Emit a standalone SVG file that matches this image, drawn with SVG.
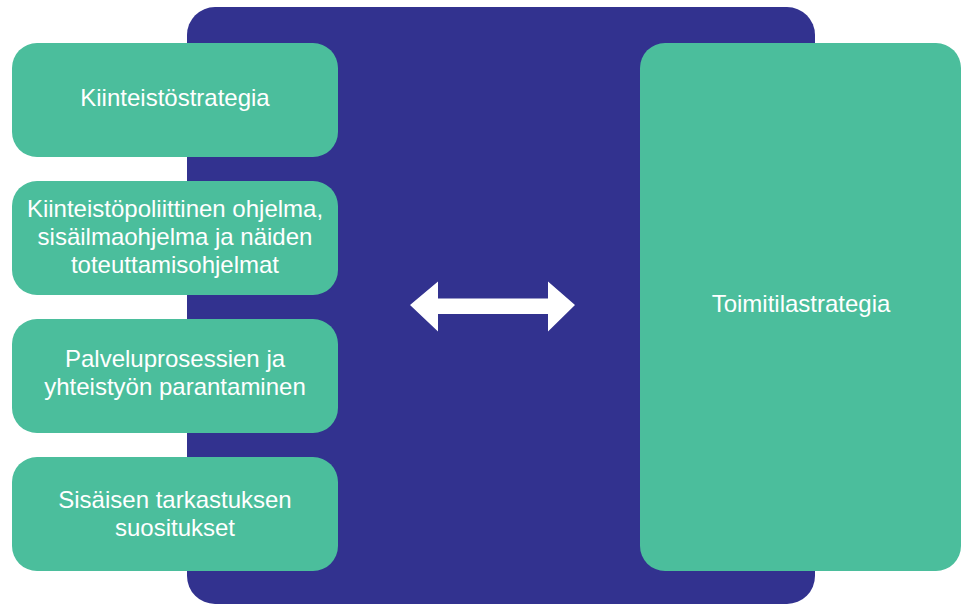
<svg xmlns="http://www.w3.org/2000/svg" width="961" height="605" viewBox="0 0 961 605">
<style>
.bg{fill:#32328f}
.box{fill:#4bbe9c}
.t{fill:#ffffff;font-family:"Liberation Sans",Arial,sans-serif;font-size:24px;text-anchor:middle}
.arrow{fill:#ffffff}
</style>
<rect width="961" height="605" fill="#ffffff"/>
<g id="frame"><rect class="bg" x="187" y="7" width="628" height="597" rx="28"/></g>
<g id="n1"><rect class="box" x="12" y="43" width="326" height="114" rx="25"/><text class="t" x="175" y="106">Kiinteistöstrategia</text></g>
<g id="n2"><rect class="box" x="12" y="181" width="326" height="114" rx="25"/><text class="t" x="175" y="217">Kiinteistöpoliittinen ohjelma,</text><text class="t" x="175" y="245">sisäilmaohjelma ja näiden</text><text class="t" x="175" y="273">toteuttamisohjelmat</text></g>
<g id="n3"><rect class="box" x="12" y="319" width="326" height="114" rx="25"/><text class="t" x="175" y="367">Palveluprosessien ja</text><text class="t" x="175" y="395">yhteistyön parantaminen</text></g>
<g id="n4"><rect class="box" x="12" y="457" width="326" height="114" rx="25"/><text class="t" x="175" y="508">Sisäisen tarkastuksen</text><text class="t" x="175" y="536">suositukset</text></g>
<g id="n5"><rect class="box" x="640" y="43" width="321" height="528" rx="25"/><text class="t" x="801" y="312">Toimitilastrategia</text></g>
<g id="connectors"><polygon class="arrow" points="410,305 438,281.5 438,298.5 548,298.5 548,281.5 575,305 548,331.5 548,314 438,314 438,331.5"/></g>
</svg>
